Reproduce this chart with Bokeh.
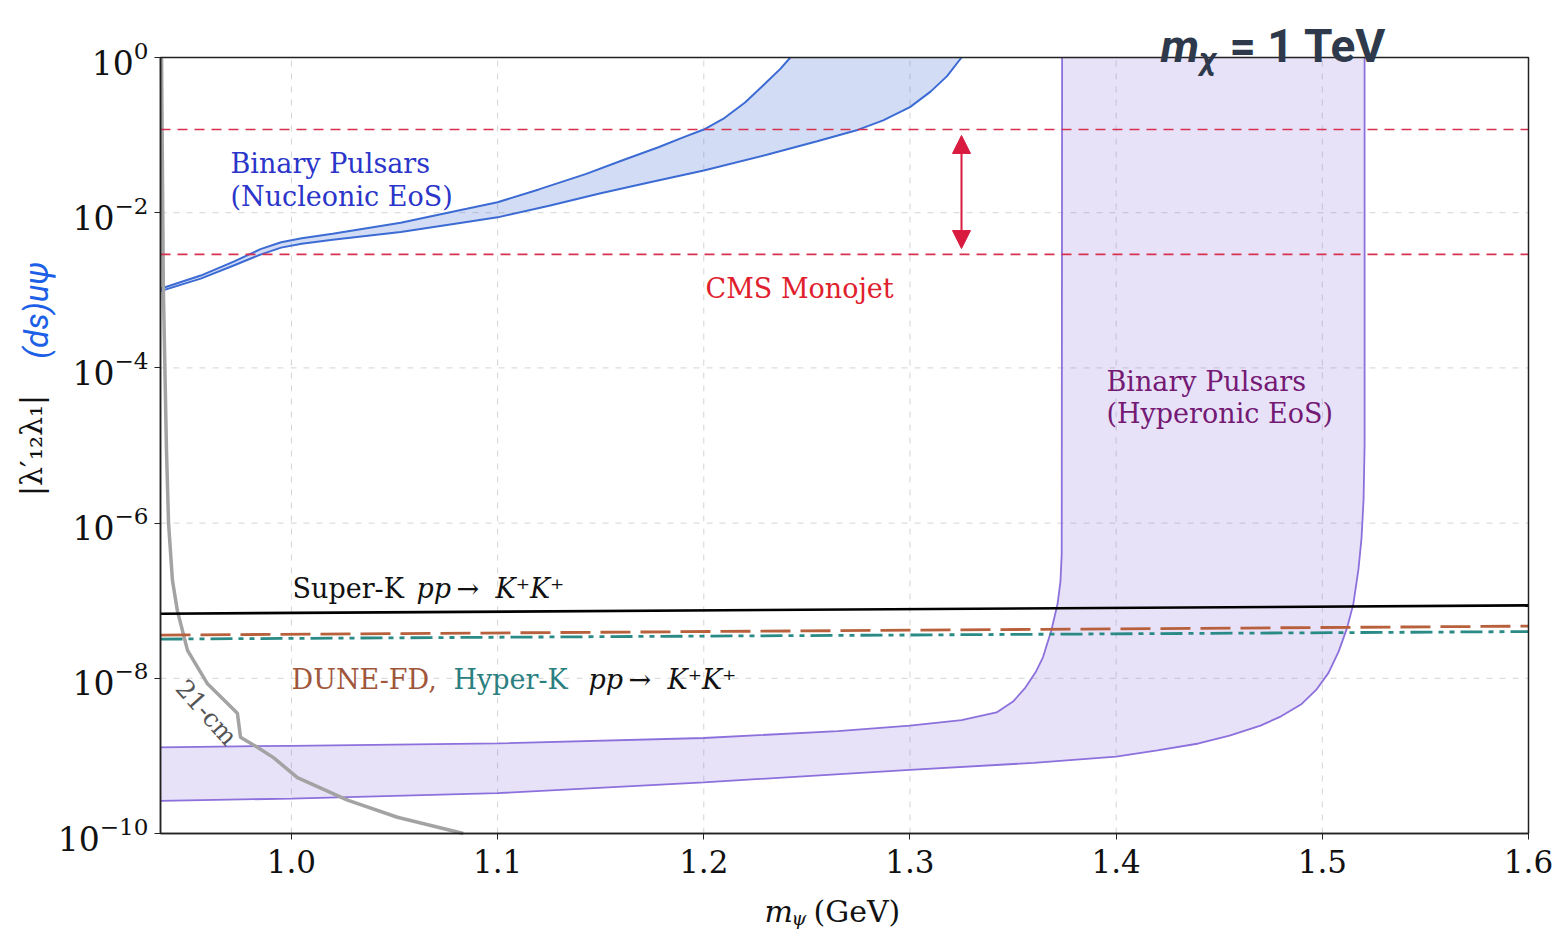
import math
from bokeh.plotting import figure
from bokeh.models import FixedTicker, PrintfTickFormatter, Label, Arrow, NormalHead, Range1d
from bokeh.embed import file_html
from bokeh.resources import INLINE

# ---------------- data ----------------
x_lo, x_hi = 0.9365, 1.6
y_lo, y_hi = 1e-10, 1.0
x_ticks = [1.0, 1.1, 1.2, 1.3, 1.4, 1.5, 1.6]
x_grid = [1.0, 1.1, 1.2, 1.3, 1.4, 1.5]
y_ticks = [1e-10, 1e-8, 1e-6, 1e-4, 1e-2, 1.0]
y_grid = [1e-8, 1e-6, 1e-4, 1e-2]

# Binary pulsars, nucleonic EoS band
nuc_upper_x = [0.9365, 0.956, 0.972, 0.985, 0.995, 1.005, 1.020, 1.053, 1.085, 1.1, 1.12, 1.143,
               1.16, 1.178, 1.19, 1.2, 1.21, 1.22, 1.23, 1.237, 1.242]
nuc_upper_y = [1.047e-3, 1.549e-3, 2.344e-3, 3.388e-3, 4.169e-3, 4.677e-3, 5.370e-3, 7.413e-3,
               1.122e-2, 1.365e-2, 1.995e-2, 3.162e-2, 4.677e-2, 6.982e-2, 9.333e-2, 0.118,
               0.166, 0.263, 0.468, 0.708, 1.0]
nuc_lower_x = [0.9365, 0.956, 0.972, 0.985, 0.995, 1.005, 1.020, 1.053, 1.085, 1.1, 1.125, 1.15,
               1.175, 1.2, 1.231, 1.255, 1.275, 1.287, 1.3, 1.31, 1.318, 1.325]
nuc_lower_y = [9.77e-4, 1.413e-3, 2.089e-3, 2.884e-3, 3.548e-3, 3.981e-3, 4.467e-3, 5.623e-3,
               7.586e-3, 8.710e-3, 1.230e-2, 1.778e-2, 2.512e-2, 3.499e-2, 5.623e-2, 8.318e-2,
               0.1175, 0.1549, 0.2291, 0.3631, 0.5754, 1.0]

# Binary pulsars, hyperonic EoS band
hyp_upper_x = [0.9365, 1.0, 1.1, 1.2, 1.265, 1.3, 1.325, 1.342, 1.35, 1.356, 1.361, 1.3645,
               1.3686, 1.3716, 1.373, 1.3736, 1.3738]
hyp_upper_y = [1.29e-9, 1.35e-9, 1.45e-9, 1.70e-9, 2.09e-9, 2.45e-9, 2.884e-9, 3.631e-9,
               5.012e-9, 7.586e-9, 1.202e-8, 1.862e-8, 4.169e-8, 9.12e-8, 1.778e-7, 3.981e-7, 1.0]
hyp_lower_x = [0.9365, 1.0, 1.1, 1.2, 1.3, 1.36, 1.40, 1.42, 1.44, 1.455, 1.47, 1.48, 1.49,
               1.497, 1.503, 1.508, 1.512, 1.515, 1.5175, 1.519, 1.520, 1.5205, 1.5205]
hyp_lower_y = [2.63e-10, 2.82e-10, 3.31e-10, 4.57e-10, 6.61e-10, 8.13e-10, 9.77e-10, 1.175e-9,
               1.445e-9, 1.820e-9, 2.455e-9, 3.236e-9, 4.677e-9, 7.079e-9, 1.175e-8, 2.239e-8,
               4.467e-8, 8.913e-8, 2.512e-7, 6.310e-7, 1.995e-6, 1e-5, 1.0]

# 21-cm bound
cm21_x = [0.937, 0.9379, 0.9394, 0.9404, 0.9423, 0.9447, 0.9496, 0.9593, 0.9738, 0.9753,
          0.9835, 0.9913, 1.0029, 1.0272, 1.0514, 1.0834]
cm21_y = [1.0, 1e-3, 8.7e-6, 1e-6, 1.82e-7, 7.4e-8, 2.29e-8, 8.5e-9, 3.55e-9, 1.74e-9, 1.29e-9,
          9.5e-10, 5.25e-10, 2.69e-10, 1.62e-10, 1.0e-10]

# CMS monojet band limits and arrow
cms_limits = [0.118, 2.9e-3]
cms_arrow_x = 1.325
cms_arrow_y = [3.45e-3, 0.099]

# pp -> K+K+ limits
superk_x = [0.9365, 1.6]
superk_y = [6.8e-8, 8.7e-8]
dune_x = [0.9365, 1.6]
dune_y = [3.6e-8, 4.7e-8]
hyperk_x = [0.9365, 1.6]
hyperk_y = [3.2e-8, 4.0e-8]

# ---------------- layout geometry (pixels of the plot box on the canvas) ----------------
W, H = 1556, 929
FL, FR, FT, FB = 160, 1528, 57, 833
kx = (x_hi - x_lo) / (FR - FL)
dec = (FB - FT) / (math.log10(y_hi) - math.log10(y_lo))


def px2x(px):
    return x_lo + (px - FL) * kx


def py2y(py):
    return 10 ** (math.log10(y_hi) - (py - FT) / dec)


SERIF = "DejaVu Serif"
p = figure(width=W, height=H,
           x_range=Range1d(px2x(0), px2x(W)), y_range=Range1d(py2y(H), py2y(0)),
           y_axis_type="log", output_backend="svg", toolbar_location=None, min_border=0)
p.background_fill_color = "white"
p.border_fill_color = "white"
p.outline_line_color = None
p.grid.visible = False

# axes placed at the plot box edges
p.xaxis.fixed_location = y_lo
p.yaxis.fixed_location = x_lo
p.xaxis.bounds = (x_lo, x_hi)
p.yaxis.bounds = (y_lo, y_hi)
p.xaxis.ticker = FixedTicker(ticks=x_ticks)
p.xaxis.formatter = PrintfTickFormatter(format="%.1f")
p.yaxis.ticker = FixedTicker(ticks=y_ticks)
for ax in (p.xaxis[0], p.yaxis[0]):
    ax.major_label_text_font = SERIF
    ax.major_label_text_color = "#111111"
    ax.minor_tick_line_color = None
    ax.major_tick_in = 0
    ax.major_tick_out = 6
    ax.major_tick_line_color = "#222222"
    ax.axis_line_color = "#222222"
    ax.axis_line_width = 1.5
p.xaxis.major_label_text_font_size = "31px"
p.yaxis.major_label_text_font_size = "33px"
p.xaxis.major_label_standoff = 10
p.yaxis.major_label_standoff = 6
p.yaxis.axis_label = "|λ′₁₂λ₁|"
p.yaxis.axis_label_text_font = SERIF
p.yaxis.axis_label_text_font_style = "normal"
p.yaxis.axis_label_text_font_size = "30px"
p.yaxis.axis_label_text_color = "#111111"
p.yaxis.axis_label_standoff = 6

# grid
p.segment(x0=x_grid, y0=[y_lo] * len(x_grid), x1=x_grid, y1=[y_hi] * len(x_grid),
          line_color="#d4d4d4", line_dash="6 7", line_width=1)
p.segment(x0=[x_lo] * len(y_grid), y0=y_grid, x1=[x_hi] * len(y_grid), y1=y_grid,
          line_color="#d4d4d4", line_dash="6 7", line_width=1)

# bands
p.patch(hyp_upper_x + hyp_lower_x[::-1], hyp_upper_y + hyp_lower_y[::-1],
        fill_color="#8c6fe0", fill_alpha=0.2, line_color=None)
p.line(hyp_upper_x, hyp_upper_y, line_color="#8c70dc", line_width=1.8)
p.line(hyp_lower_x, hyp_lower_y, line_color="#8c70dc", line_width=1.8)

p.patch(nuc_upper_x + nuc_lower_x[::-1], nuc_upper_y + nuc_lower_y[::-1],
        fill_color="#4a78d8", fill_alpha=0.25, line_color=None)
p.line(nuc_upper_x, nuc_upper_y, line_color="#3d6bd4", line_width=2)
p.line(nuc_lower_x, nuc_lower_y, line_color="#3d6bd4", line_width=2)

# 21 cm
p.line(cm21_x, cm21_y, line_color="#a3a3a3", line_width=3.5)

# CMS
p.segment(x0=[x_lo] * len(cms_limits), y0=cms_limits, x1=[x_hi] * len(cms_limits), y1=cms_limits,
          line_color="#d8304f", line_dash="10 7", line_width=1.6)
p.add_layout(Arrow(start=NormalHead(size=18, fill_color="#d81b3f", line_color="#d81b3f"),
                   end=NormalHead(size=18, fill_color="#d81b3f", line_color="#d81b3f"),
                   x_start=cms_arrow_x, y_start=cms_arrow_y[0],
                   x_end=cms_arrow_x, y_end=cms_arrow_y[1],
                   line_color="#d81b3f", line_width=2))

# K+K+ limits
p.line(hyperk_x, hyperk_y, line_color="#2a8a86", line_width=2.8, line_dash="22 6 5 6 5 6")
p.line(dune_x, dune_y, line_color="#b8603c", line_width=2.8, line_dash="30 10")
p.line(superk_x, superk_y, line_color="#000000", line_width=2.6)

# plot box
p.quad(left=[x_lo], right=[x_hi], bottom=[y_lo], top=[y_hi], fill_color=None,
       line_color="#222222", line_width=1.5)


# ---------------- texts ----------------
def lab(px, py, text, color="#111111", size=27, style="normal", font=SERIF,
        angle=0.0, align="left", baseline="alphabetic"):
    p.add_layout(Label(x=px2x(px), y=py2y(py), text=text, text_color=color,
                       text_font_size=f"{size}px", text_font_style=style,
                       text_font=font, angle=angle, text_align=align,
                       text_baseline=baseline))


BLUE_T = "#2b35c9"
lab(230, 163, "Binary Pulsars", BLUE_T)
lab(230, 196, "(Nucleonic EoS)", BLUE_T)
lab(705, 288, "CMS Monojet", "#e0202c")
PURP_T = "#741a74"
lab(1106, 381, "Binary Pulsars", PURP_T)
lab(1106, 413, "(Hyperonic EoS)", PURP_T)

lab(292, 588, "Super-K", "#111111")
lab(416, 588, "pp", "#111111", style="italic")
lab(456, 588, "→", "#111111")
lab(495, 588, "K⁺K⁺", "#111111", style="italic")

lab(291, 679, "DUNE-FD,", "#a0563a")
lab(453, 679, "Hyper-K", "#2a7f80")
lab(588, 679, "pp", "#111111", style="italic")
lab(628, 679, "→", "#111111")
lab(667, 679, "K⁺K⁺", "#111111", style="italic")

lab(206, 712, "21-cm", "#555555", 25, angle=-0.84, align="center", baseline="middle")

# x-axis label (m_psi (GeV))
lab(764, 911, "m", "#111111", 30, "italic")
lab(791, 917, "ψ", "#111111", 19, "italic")
lab(813, 911, "(GeV)", "#111111", 30)

# blue y-label part
lab(36, 310, "(ds)uψ", "#1d5fe6", 33, "italic", "Roboto", angle=math.pi / 2,
    align="center", baseline="middle")

# title m_chi = 1 TeV
TITLE_C = "#2e3a4b"
lab(1160, 45, "m", TITLE_C, 46, "bold italic", "Roboto")
lab(1199, 58, "χ", TITLE_C, 32, "bold italic", "Roboto")
lab(1229, 45, "= 1 TeV", TITLE_C, 46, "bold", "Roboto")

open("out.html", "w").write(file_html(p, INLINE))
